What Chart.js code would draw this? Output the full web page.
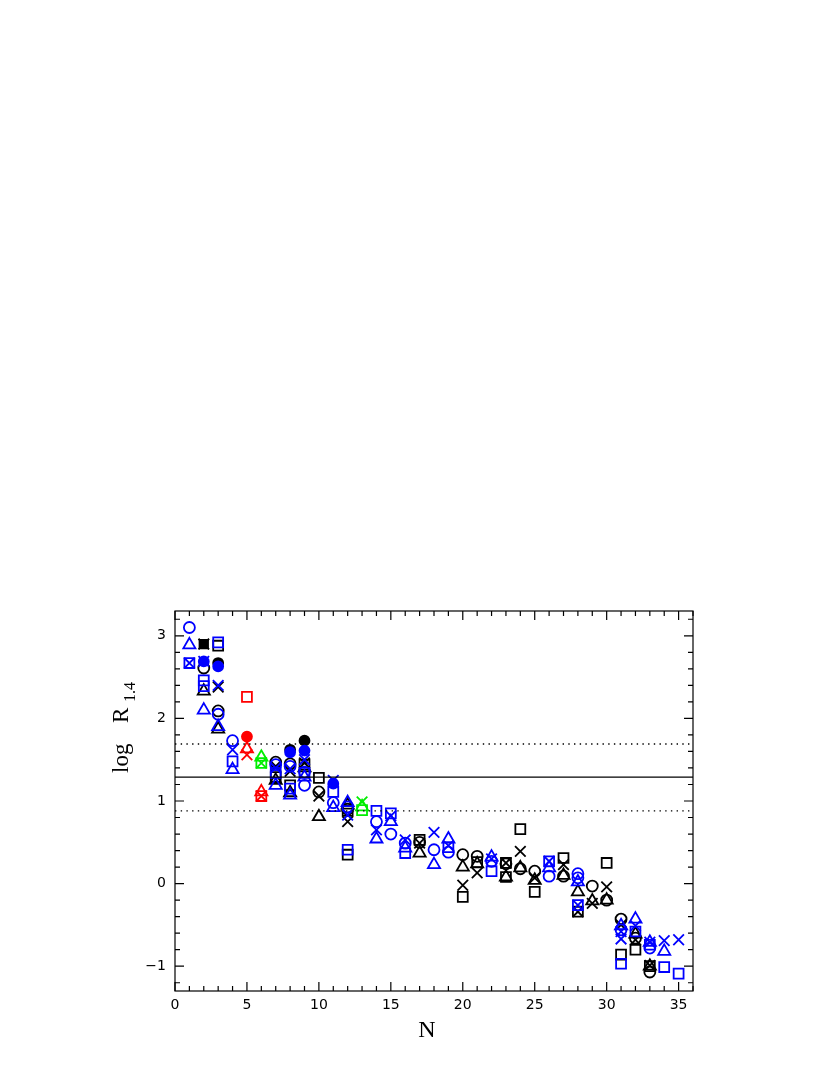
<!DOCTYPE html>
<html>
<head>
<meta charset="utf-8">
<script src="https://cdn.jsdelivr.net/npm/chart.js@4.4.0/dist/chart.umd.min.js"></script>
<style>
  body { margin: 0; background: #fff; }
  canvas { display: block; }
</style>
</head>
<body>
<canvas id="chart" width="830" height="1075"></canvas>
<script>
// axis ticks
const xTicks = [0, 5, 10, 15, 20, 25, 30, 35];
const yTicks = [-1, 0, 1, 2, 3];

// horizontal reference lines: mean and the two dotted bounds
const meanLine = 1.29;
const upperLine = 1.69;
const lowerLine = 0.88;

// points as [N, log R_1.4]
const blackCircle = [[2,2.61],[3,2.09],[7,1.47],[8,1.45],[10,1.11],[12,0.90],[17,0.50],[20,0.35],[21,0.33],[23,0.24],[24,0.18],[25,0.15],[27,0.09],[29,-0.03],[30,-0.20],[31,-0.43],[32,-0.66],[33,-1.07]];
const blackTriangle = [[2,2.33],[3,1.87],[7,1.25],[8,1.10],[9,1.40],[10,0.81],[12,0.95],[17,0.37],[20,0.20],[21,0.24],[23,0.08],[24,0.19],[25,0.04],[27,0.10],[28,-0.10],[29,-0.21],[30,-0.20],[32,-0.61],[33,-1.00]];
const blackSquare = [[3,2.88],[7,1.29],[8,1.19],[9,1.44],[10,1.28],[12,0.88],[12,0.35],[17,0.53],[20,-0.16],[21,0.26],[23,0.25],[23,0.08],[24,0.66],[25,-0.10],[27,0.31],[28,-0.34],[30,0.25],[31,-0.86],[32,-0.80],[33,-1.00]];
const blackCross = [[2,2.90],[3,2.38],[7,1.42],[8,1.36],[9,1.46],[10,1.06],[12,0.75],[17,0.49],[20,-0.02],[21,0.13],[23,0.25],[24,0.39],[25,0.07],[27,0.23],[28,-0.34],[29,-0.24],[30,-0.04],[31,-0.50],[32,-0.68],[33,-0.99]];
const blackDot = [[3,2.67],[8,1.62],[9,1.73]];
const blackBlock = [[2,2.90]];

const blueCircle = [[1,3.10],[3,2.05],[4,1.73],[7,1.44],[8,1.42],[9,1.35],[9,1.19],[11,0.98],[12,0.93],[14,0.75],[15,0.60],[16,0.49],[18,0.41],[19,0.38],[22,0.27],[26,0.09],[28,0.12],[28,0.07],[31,-0.56],[33,-0.78]];
const blueTriangle = [[1,2.89],[2,2.10],[3,1.90],[4,1.38],[7,1.19],[8,1.07],[9,1.29],[11,0.92],[12,0.98],[14,0.54],[15,0.75],[16,0.43],[18,0.23],[19,0.54],[22,0.32],[26,0.19],[28,0.02],[31,-0.51],[32,-0.43],[33,-0.71],[34,-0.82]];
const blueSquare = [[1,2.67],[2,2.46],[2,2.39],[3,2.92],[4,1.48],[7,1.34],[8,1.15],[9,1.34],[11,1.11],[12,0.41],[14,0.88],[15,0.85],[16,0.37],[19,0.44],[22,0.15],[26,0.27],[28,-0.26],[31,-0.97],[32,-0.58],[33,-0.74],[34,-1.01],[35,-1.09]];
const blueCross = [[1,2.67],[2,2.69],[3,2.40],[4,1.62],[7,1.40],[8,1.39],[9,1.50],[11,1.25],[12,0.83],[14,0.65],[15,0.82],[16,0.53],[18,0.62],[19,0.46],[22,0.30],[26,0.27],[28,-0.26],[31,-0.58],[31,-0.67],[32,-0.51],[33,-0.71],[34,-0.69],[35,-0.68]];
const blueDot = [[2,2.69],[3,2.63],[8,1.59],[9,1.61],[11,1.21]];

const redSquare = [[5,2.26],[6,1.06]];
const redTriangle = [[5,1.63],[6,1.11]];
const redCross = [[5,1.56],[6,1.06]];
const redDot = [[5,1.78]];

const greenTriangle = [[6,1.53],[13,0.93]];
const greenSquare = [[6,1.46],[13,0.89]];
const greenCross = [[6,1.46],[13,0.99]];

const BLACK = '#000000', BLUE = '#0000ff', RED = '#ff0000', GREEN = '#00ee00';

function pts(arr) {
    return arr.map(p => ({ x: p[0], y: p[1] }));
}

function series(label, arr, color, style, radius, filled) {
    return {
        label: label,
        data: pts(arr),
        pointStyle: style,
        pointRadius: radius,
        pointHoverRadius: radius,
        borderColor: color,
        backgroundColor: filled ? color : 'rgba(0,0,0,0)',
        pointBorderWidth: 1.8,
        showLine: false
    };
}

function hline(label, yv, dash) {
    return {
        label: label,
        data: [{ x: 0, y: yv }, { x: 36, y: yv }],
        showLine: true,
        borderColor: BLACK,
        borderWidth: 1.3,
        borderDash: dash || [],
        pointRadius: 0,
        pointHoverRadius: 0
    };
}

// frame with inward ticks on all four sides, plus axis titles
const framePlugin = {
    id: 'frame',
    afterDraw(chart) {
        const ctx = chart.ctx;
        const a = chart.chartArea;
        const xs = chart.scales.x, ys = chart.scales.y;
        ctx.save();
        ctx.strokeStyle = '#000';
        ctx.lineWidth = 1.2;
        ctx.strokeRect(a.left, a.top, a.right - a.left, a.bottom - a.top);

        ctx.beginPath();
        for (let n = 0; n <= 36; n++) {
            const px = xs.getPixelForValue(n);
            const len = n % 5 === 0 ? 9 : 5;
            ctx.moveTo(px, a.bottom); ctx.lineTo(px, a.bottom - len);
            ctx.moveTo(px, a.top); ctx.lineTo(px, a.top + len);
        }
        for (let k = -6; k <= 16; k++) {
            const v = k / 5;
            const py = ys.getPixelForValue(v);
            const len = k % 5 === 0 ? 9 : 5;
            ctx.moveTo(a.left, py); ctx.lineTo(a.left + len, py);
            ctx.moveTo(a.right, py); ctx.lineTo(a.right - len, py);
        }
        ctx.stroke();

        // x title
        ctx.fillStyle = '#000';
        ctx.font = '24px "Liberation Serif", serif';
        ctx.textAlign = 'center';
        ctx.textBaseline = 'alphabetic';
        ctx.fillText('N', 427, 1037);

        // y title: log R with subscript 1.4
        ctx.translate(128, 773);
        ctx.rotate(-Math.PI / 2);
        ctx.textAlign = 'left';
        ctx.font = '23px "Liberation Serif", serif';
        ctx.fillText('log', 0, 0);
        ctx.fillText('R', 50, 0);
        ctx.font = '16px "Liberation Serif", serif';
        ctx.fillText('1.4', 71, 7);
        ctx.restore();
    }
};

const tickFont = { family: '"DejaVu Sans", sans-serif', size: 14 };

new Chart(document.getElementById('chart'), {
    type: 'scatter',
    data: {
        datasets: [
            hline('mean', meanLine),
            hline('upper', upperLine, [1.4, 4.3]),
            hline('lower', lowerLine, [1.4, 4.3]),
            series('blue circle', blueCircle, BLUE, 'circle', 5.5, false),
            series('blue triangle', blueTriangle, BLUE, 'triangle', 7, false),
            series('blue square', blueSquare, BLUE, 'rect', 7, false),
            series('blue cross', blueCross, BLUE, 'crossRot', 7.5, false),
            series('blue dot', blueDot, BLUE, 'circle', 5, true),
            series('black circle', blackCircle, BLACK, 'circle', 5.5, false),
            series('black triangle', blackTriangle, BLACK, 'triangle', 7, false),
            series('black square', blackSquare, BLACK, 'rect', 7, false),
            series('black cross', blackCross, BLACK, 'crossRot', 7.5, false),
            series('black dot', blackDot, BLACK, 'circle', 5, true),
            series('black block', blackBlock, BLACK, 'rect', 6, true),
            series('red square', redSquare, RED, 'rect', 7, false),
            series('red triangle', redTriangle, RED, 'triangle', 7, false),
            series('red cross', redCross, RED, 'crossRot', 7.5, false),
            series('red dot', redDot, RED, 'circle', 5, true),
            series('green triangle', greenTriangle, GREEN, 'triangle', 7, false),
            series('green square', greenSquare, GREEN, 'rect', 7, false),
            series('green cross', greenCross, GREEN, 'crossRot', 7.5, false)
        ]
    },
    options: {
        responsive: false,
        animation: false,
        layout: { padding: { left: 100, right: 137, top: 611, bottom: 44 } },
        plugins: {
            legend: { display: false },
            tooltip: { enabled: false }
        },
        scales: {
            x: {
                type: 'linear',
                min: 0,
                max: 36,
                afterBuildTicks: s => { s.ticks = xTicks.map(v => ({ value: v })); },
                afterFit: s => { s.height = 40; },
                grid: { display: false, drawTicks: false },
                border: { display: false },
                ticks: { color: '#000', font: tickFont, padding: 6, maxRotation: 0 }
            },
            y: {
                type: 'linear',
                min: -1.3,
                max: 3.3,
                afterBuildTicks: s => { s.ticks = yTicks.map(v => ({ value: v })); },
                afterFit: s => { s.width = 75; },
                grid: { display: false, drawTicks: false },
                border: { display: false },
                ticks: {
                    color: '#000',
                    font: tickFont,
                    padding: 9,
                    callback: v => (v < 0 ? '\u2212' + Math.abs(v) : String(v))
                }
            }
        }
    },
    plugins: [framePlugin]
});
</script>
</body>
</html>
